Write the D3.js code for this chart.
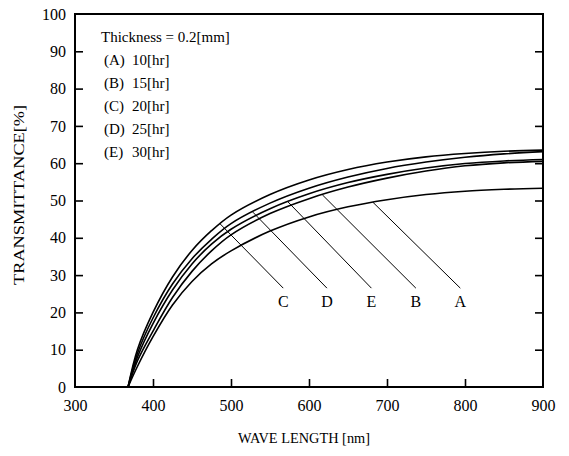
<!DOCTYPE html>
<html lang="en">
<head>
    <meta charset="UTF-8">
    <title>Transmittance vs wave length</title>
    <style>
    body { margin: 0; background: #fff; }
    .axis text { font-family: "Liberation Serif", serif; font-size: 16px; fill: #000; }
    .lbl { font-family: "Liberation Serif", serif; fill: #000; }
    </style>
</head>
<body>
<div id="chart"></div>
<script src="https://d3js.org/d3.v7.min.js"></script>
<script>
var width = 569, height = 456;
// plot frame
var padding = { left: 75, right: 26, top: 14, bottom: 69 };

// data
var waveLengths = [368, 380, 400, 425, 450, 475, 500, 550, 600, 650, 700, 750, 800, 850, 900];
var curveA = [0, 5.5, 13.5, 22, 28.3, 33, 36.5, 41.8, 45.6, 48.3, 50.2, 51.6, 52.5, 53, 53.3];
var curveB = [0, 7, 15, 24, 31, 36.5, 40.8, 46.5, 50.5, 53.6, 56, 57.9, 59.3, 60.1, 60.5];
var curveC = [0, 10, 20, 29.5, 36.6, 41.9, 46.1, 51.6, 55.5, 58.3, 60.3, 61.7, 62.6, 63.2, 63.5];
var curveD = [0, 9, 18.5, 27.6, 34.4, 39.6, 43.8, 49.3, 53.3, 56.3, 58.6, 60.3, 61.6, 62.5, 63.1];
var curveE = [0, 8, 17, 26, 33, 38.3, 42.3, 47.8, 51.8, 54.8, 57, 58.7, 59.9, 60.6, 61];
var seriesNames = ["A", "B", "C", "D", "E"];
var seriesHours = ["10[hr]", "15[hr]", "20[hr]", "25[hr]", "30[hr]"];
// leader lines: where each touches its curve, and where its letter sits
var labelOrder = ["C", "D", "E", "B", "A"];
var anchorWl = [486, 528, 573, 617, 682];
var labelWl = [567, 623, 680, 737, 794];
var leaderEndT = 26.5;
var labelT = 21.4;
var xTicks = [300, 400, 500, 600, 700, 800, 900];
var yTicks = [0, 10, 20, 30, 40, 50, 60, 70, 80, 90, 100];

var curves = { A: curveA, B: curveB, C: curveC, D: curveD, E: curveE };

var svg = d3.select('#chart').append('svg').attr('width', width).attr('height', height);

var x = d3.scaleLinear().domain([300, 900]).range([padding.left, width - padding.right]);
var y = d3.scaleLinear().domain([0, 100]).range([height - padding.bottom, padding.top]);

// frame
svg.append('rect')
    .attr('x', x(300)).attr('y', y(100))
    .attr('width', x(900) - x(300)).attr('height', y(0) - y(100))
    .attr('fill', 'none').attr('stroke', '#000').attr('stroke-width', 2);

// inward ticks, labels outside
var bottom = svg.append('g').attr('class', 'axis')
    .attr('transform', 'translate(0,' + y(0) + ')')
    .call(d3.axisBottom(x).tickValues(xTicks).tickSizeInner(-8).tickSizeOuter(0).tickPadding(13));
bottom.select('.domain').remove();
bottom.selectAll('line').attr('stroke-width', 1.6);

var left = svg.append('g').attr('class', 'axis')
    .attr('transform', 'translate(' + x(300) + ',0)')
    .call(d3.axisLeft(y).tickValues(yTicks).tickSizeInner(-8).tickSizeOuter(0).tickPadding(9));
left.select('.domain').remove();
left.selectAll('line').attr('stroke-width', 1.6);

var right = svg.append('g').attr('class', 'axis')
    .attr('transform', 'translate(' + x(900) + ',0)')
    .call(d3.axisRight(y).tickValues(yTicks.slice(1, 10)).tickSizeInner(-8).tickSizeOuter(0));
right.select('.domain').remove();
right.selectAll('text').remove();
right.selectAll('line').attr('stroke-width', 1.6);

// hide ticks that sit on the frame corners
bottom.selectAll('.tick').filter(function(d) { return d === 300 || d === 900; }).select('line').remove();
left.selectAll('.tick').filter(function(d) { return d === 0 || d === 100; }).select('line').remove();

// curves
var line = d3.line()
    .x(function(d, i) { return x(waveLengths[i]); })
    .y(function(d) { return y(d); })
    .curve(d3.curveCatmullRom.alpha(0.5));

svg.append('g').selectAll('path')
    .data(seriesNames)
    .enter()
    .append('path')
    .attr('d', function(k) { return line(curves[k]); })
    .attr('fill', 'none')
    .attr('stroke', '#000')
    .attr('stroke-width', 1.6);

// leader lines and letters
labelOrder.forEach(function(k, i) {
    var onCurve = d3.scaleLinear().domain(waveLengths).range(curves[k]);
    svg.append('line')
        .attr('x1', x(anchorWl[i])).attr('y1', y(onCurve(anchorWl[i])))
        .attr('x2', x(labelWl[i])).attr('y2', y(leaderEndT))
        .attr('stroke', '#000').attr('stroke-width', 1);
    svg.append('text')
        .attr('class', 'lbl')
        .attr('x', x(labelWl[i])).attr('y', y(labelT))
        .attr('text-anchor', 'middle')
        .attr('font-size', 16)
        .text(k);
});

// legend
svg.append('text').attr('class', 'lbl')
    .attr('x', 101).attr('y', 42).attr('font-size', 15)
    .text('Thickness = 0.2[mm]');
seriesNames.forEach(function(k, i) {
    var ty = 65 + i * 23;
    svg.append('text').attr('class', 'lbl')
        .attr('x', 104).attr('y', ty).attr('font-size', 15)
        .text('(' + k + ')');
    svg.append('text').attr('class', 'lbl')
        .attr('x', 132).attr('y', ty).attr('font-size', 15)
        .text(seriesHours[i]);
});

// axis titles
svg.append('text').attr('class', 'lbl')
    .attr('x', 304).attr('y', 443)
    .attr('text-anchor', 'middle').attr('font-size', 14)
    .attr('textLength', 132).attr('lengthAdjust', 'spacingAndGlyphs')
    .text('WAVE LENGTH [nm]');
svg.append('text').attr('class', 'lbl')
    .attr('transform', 'translate(24,' + y(51.5) + ') rotate(-90)')
    .attr('text-anchor', 'middle').attr('font-size', 15)
    .attr('textLength', 180).attr('lengthAdjust', 'spacingAndGlyphs')
    .text('TRANSMITTANCE[%]');
</script>
</body>
</html>
